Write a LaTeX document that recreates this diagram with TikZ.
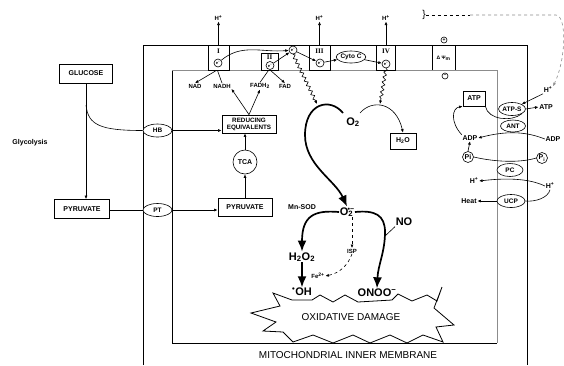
\documentclass[tikz,border=0pt]{standalone}
\usepackage{fontspec}
\setmainfont{Liberation Sans}
\newfontfamily\serifb{Liberation Serif}
\usetikzlibrary{arrows.meta,decorations.pathmorphing,shapes.geometric}
\begin{document}
\begin{tikzpicture}[x=1pt,y=-1pt,line width=0.6pt,
  fsm/.style={font=\fontsize{7}{8}\selectfont\bfseries, inner sep=0.5pt},
  ftn/.style={font=\fontsize{6}{6.5}\selectfont\bfseries, inner sep=0.5pt},
  fbg/.style={font=\fontsize{11}{12}\selectfont\bfseries, inner sep=0.5pt},
  fnum/.style={font=\serifb\bfseries\fontsize{7}{7}\selectfont, inner sep=0pt},
  rect/.style={draw, line width=0.8pt, fill=white, inner sep=0pt},
  ov/.style={ellipse, draw, fill=white, inner sep=0pt, minimum width=27pt, minimum height=13pt, font=\fontsize{6.5}{6.5}\selectfont\bfseries},
  ec/.style={circle, draw, fill=white, inner sep=0pt, minimum size=8pt, font=\fontsize{4}{4}\selectfont\bfseries},
  pm/.style={circle, draw, inner sep=0pt, minimum size=6pt, font=\fontsize{5}{5}\selectfont\bfseries},
  arr/.style={-{Latex[length=3.5pt,width=3pt]}},
  bigarr/.style={-{Latex[length=11pt,width=9pt]}, line width=1.7pt},
  wavy/.style={decorate, decoration={snake, amplitude=1.6pt, segment length=5pt, post length=4pt}, -{Latex[length=3.5pt,width=3pt]}},
  memb/.style={line width=0.8pt},
  gline/.style={draw=black!45, line width=0.8pt}
]
\useasboundingbox (0,0) rectangle (564,365);

% membranes
\draw[memb] (143,365) -- (143,45) -- (527,45) -- (527,365);
\draw[memb] (172,70) -- (172,343) -- (497,343);
\draw[gline] (172,70) -- (497,70) -- (497,343);
\draw[memb] (432,45) -- (432,70) (455,45) -- (455,70);

% complexes
\node[rect, minimum width=21pt, minimum height=25pt] (cI) at (218.5,57.5) {};
\node[fnum] (nI) at (218.5,51) {I};
\node[ec] (e1) at (218,63) {e\textsuperscript{−}};
\node[rect, minimum width=17pt, minimum height=17pt] (cII) at (269.5,61.5) {};
\node[fnum] (nII) at (269.5,57) {II};
\node[ec] (e2) at (270,65.5) {e\textsuperscript{−}};
\node[ec] (Q) at (293,50) {e\textsuperscript{−}};
\node[rect, minimum width=21pt, minimum height=25pt] (cIII) at (319.5,57.5) {};
\node[fnum] (nIII) at (319.5,51) {III};
\node[ec] (e3) at (320,63) {e\textsuperscript{−}};
\node[ov, minimum width=28pt, minimum height=12pt] (cytoc) at (351,57) {Cyto C};
\node[rect, minimum width=19pt, minimum height=25pt] (cIV) at (386,57.5) {};
\node[fnum] (nIV) at (386,51) {IV};
\node[ec] (e4) at (386,64) {e\textsuperscript{−}};
\node[font=\fontsize{5}{5}\selectfont\bfseries, inner sep=0pt] (dpsi) at (443.5,58) {Δ Ψ\textsubscript{m}};
\node[pm] (plus) at (444,40) {+};
\node[pm] (minus) at (445,76) {−};

% H+ pumped
\node[ftn] (h1) at (218.5,18) {H\textsuperscript{+}};
\node[ftn] (h3) at (319.5,18) {H\textsuperscript{+}};
\node[ftn] (h4) at (386,18) {H\textsuperscript{+}};
\draw[arr] (cI.north) -- (cI.north |- h1.south);
\draw[arr] (cIII.north) -- (cIII.north |- h3.south);
\draw[arr] (cIV.north) -- (cIV.north |- h4.south);
\node[font=\fontsize{10}{10}\selectfont, inner sep=0pt] (brk) at (424,15) {\}};
\node[fsm] (hR) at (548,90) {H\textsuperscript{+}};
\draw[dashed] (brk.east) -- (470,15);
\draw[dashed, black!45, arr] (470,15) -- (556,15) .. controls (567,16) and (566,60) .. (hR.north east);

% electron transfer
\draw[arr] (e1) to[out=40,in=185] (Q);
\draw[arr] (e2) -- (Q);
\draw[arr] (Q) -- (e3);
\draw[arr] (e3) -- (cytoc);
\draw[arr] (cytoc) -- (e4);
\coordinate (w1) at (317,104);
\coordinate (w2) at (380,104);
\draw[wavy] (Q.south) -- (w1);
\draw[wavy] (e4.south) -- (w2);

% NAD / FAD
\node[ftn] (nad) at (195,86) {NAD};
\node[ftn] (nadh) at (222,86) {NADH};
\node[ftn] (fadh) at (260,86) {FADH\textsubscript{2}};
\node[ftn] (fad) at (285,86) {FAD};
\draw[arr] ([xshift=-2pt]cI.south) -- (nad.north);
\draw (nadh.north) -- ([xshift=-1pt]cI.south);
\draw (fadh.north) -- ([xshift=-1pt]cII.south);
\draw[arr] ([xshift=1pt]cII.south) -- (fad.north);

% left pathway
\node[rect, minimum width=54pt, minimum height=18pt, align=center, font=\fontsize{6.3}{7}\selectfont\bfseries] (red) at (249,124) {REDUCING\\EQUIVALENTS};
\draw[arr] (red.north) -- (nadh.south east);
\draw[arr] (red.north) -- (fadh.south);
\node[circle, draw, minimum size=24pt, inner sep=0pt, fsm] (tca) at (245,162) {TCA};
\draw[arr] (tca.north) -- (tca.north |- red.south);
\node[rect, minimum width=54pt, minimum height=18pt, fsm] (pyr2) at (245,207) {PYRUVATE};
\draw[arr] (pyr2.north) -- (tca.south);
\node[rect, minimum width=53pt, minimum height=19pt, fsm] (glu) at (86,73.5) {GLUCOSE};
\node[rect, minimum width=55pt, minimum height=19pt, fsm] (pyr1) at (82,209) {PYRUVATE};
\draw[arr] (glu.south) -- (glu.south |- pyr1.north);
\node[ov, minimum width=29pt] (hb) at (157.5,130.5) {HB};
\node[ov, minimum width=29pt] (pt) at (157.5,210) {PT};
\coordinate (gb) at (86,105);
\draw (gb) .. controls (88,125) and (100,130.5) .. (hb.west);
\draw[arr] (hb.east) -- (hb.east -| red.west);
\draw (pyr1.east |- pt.west) -- (pt.west);
\draw[arr] (pt.east) -- (pt.east -| pyr2.west);
\node[fsm] (gly) at (30,143) {Glycolysis};

% oxygen chemistry
\draw[line width=0.8pt, fill=white] (251,313) -- (280,306) -- (273,293) -- (292,300) -- (312,300) -- (320,295) -- (333,302) -- (345,295) -- (358,302) -- (392,300) -- (398,294) -- (412,301) -- (427,295) -- (437,301) -- (442,287) -- (434,308) -- (454,325) -- (436,327) -- (443,342) -- (423,335) -- (407,343) -- (390,335) -- (370,343) -- (353,335) -- (333,343) -- (313,335) -- (293,342) -- (283,332) -- (263,331) -- (276,322) -- cycle;
\node[font=\fontsize{10}{10}\selectfont, inner sep=0pt] (dmg) at (351,317) {OXIDATIVE DAMAGE};

\node[fbg] (o2) at (353,122) {O\textsubscript{2}};
\node[fbg] (sup) at (347,212) {O\textsubscript{2}\kern-5.5pt\raisebox{0.6ex}{\fontsize{7}{7}\selectfont•−}};
\coordinate (o2a) at (343,113);
\coordinate (o2b) at (360,113);
\draw[bigarr] (o2a) .. controls (330,97) and (305,103) .. (305,135) .. controls (305,165) and (335,180) .. (sup.north);
\node[rect, minimum width=26pt, minimum height=16pt, fsm] (h2o) at (403,141) {H\textsubscript{2}O};
\draw[arr] (o2b) .. controls (372,99) and (396,102) .. (h2o.north);
\node[fsm] (sod) at (302,207) {Mn-SOD};
\node[fbg] (h2o2) at (302,257) {H\textsubscript{2}O\textsubscript{2}};
\draw[bigarr] (sup.west) .. controls (315,210) and (302,215) .. (h2o2.north);
\node[fbg] (oh) at (302,292) {\textsuperscript{•}OH};
\draw[bigarr] (h2o2.south) -- (oh.north);
\node[ftn] (isp) at (352,251) {ISP};
\draw[dashed, arr] (sup.south -| isp.north) -- (isp.north);
\node[ftn] (fe) at (318,276) {Fe\textsuperscript{2+}};
\draw[dashed, arr] (isp.south) .. controls (348,265) and (340,273) .. (fe.east);
\node[fbg] (onoo) at (377,293) {ONOO\textsuperscript{−}};
\node[fbg] (no) at (404,222) {NO};
\coordinate (nojoin) at (385,236);
\draw[bigarr] (sup.east) .. controls (375,210) and (385,215) .. (385,232) .. controls (385,252) and (378,265) .. (onoo.north);
\draw (no.south west) -- (nojoin);

% right side transporters
\node[rect, minimum width=22pt, minimum height=15pt, fsm] (atpb) at (474,98.5) {ATP};
\node[ov, minimum width=26pt] (atps) at (512,109) {ATP-S};
\node[ov, minimum width=25pt, minimum height=12pt] (ant) at (513,126) {ANT};
\node[ov, minimum width=26pt] (pc) at (510,170) {PC};
\node[ov, minimum width=28pt] (ucp) at (511,201) {UCP};
\node[fsm] (atpR) at (546,107) {ATP};
\node[fsm] (adpR) at (553,139) {ADP};
\node[fsm] (adpL) at (470,138) {ADP};
\node[circle, draw, inner sep=0pt, minimum size=11pt, fsm] (piL) at (468,157) {Pi};
\node[circle, draw, inner sep=0pt, minimum size=11pt, fsm] (piR) at (542,158) {P\textsubscript{i}};
\node[fsm] (hL) at (474,181) {H\textsuperscript{+}};
\node[fsm] (hR2) at (550,186) {H\textsuperscript{+}};
\node[fsm] (heat) at (469,201) {Heat};
\draw[arr] (hR.south west) -- (atps.north east);
\draw[arr] (atps.east) -- (atpR.west);
\draw[arr] (adpL.north west) .. controls (450,122) and (452,108) .. (atpb.south west);
\draw (atpb.south east) .. controls (488,120) and (512,122) .. (atps.south east);
\draw[arr] (adpR.west) .. controls (525,131) and (505,131) .. (adpL.east);
\draw (piL.east) .. controls (495,162) and (520,163) .. (piR.west);
\draw[arr] (piL.north) -- (adpL.south);
\draw[arr] (hR2.west) .. controls (528,178) and (505,178) .. (hL.east);
\draw[arr] (ucp.west) -- (heat.east);
\draw (hR2.south) .. controls (548,198) and (535,202) .. (ucp.east);

\node[font=\fontsize{10}{10}\selectfont, inner sep=0pt] (mim) at (348,355) {MITOCHONDRIAL INNER MEMBRANE};
\end{tikzpicture}
\end{document}
